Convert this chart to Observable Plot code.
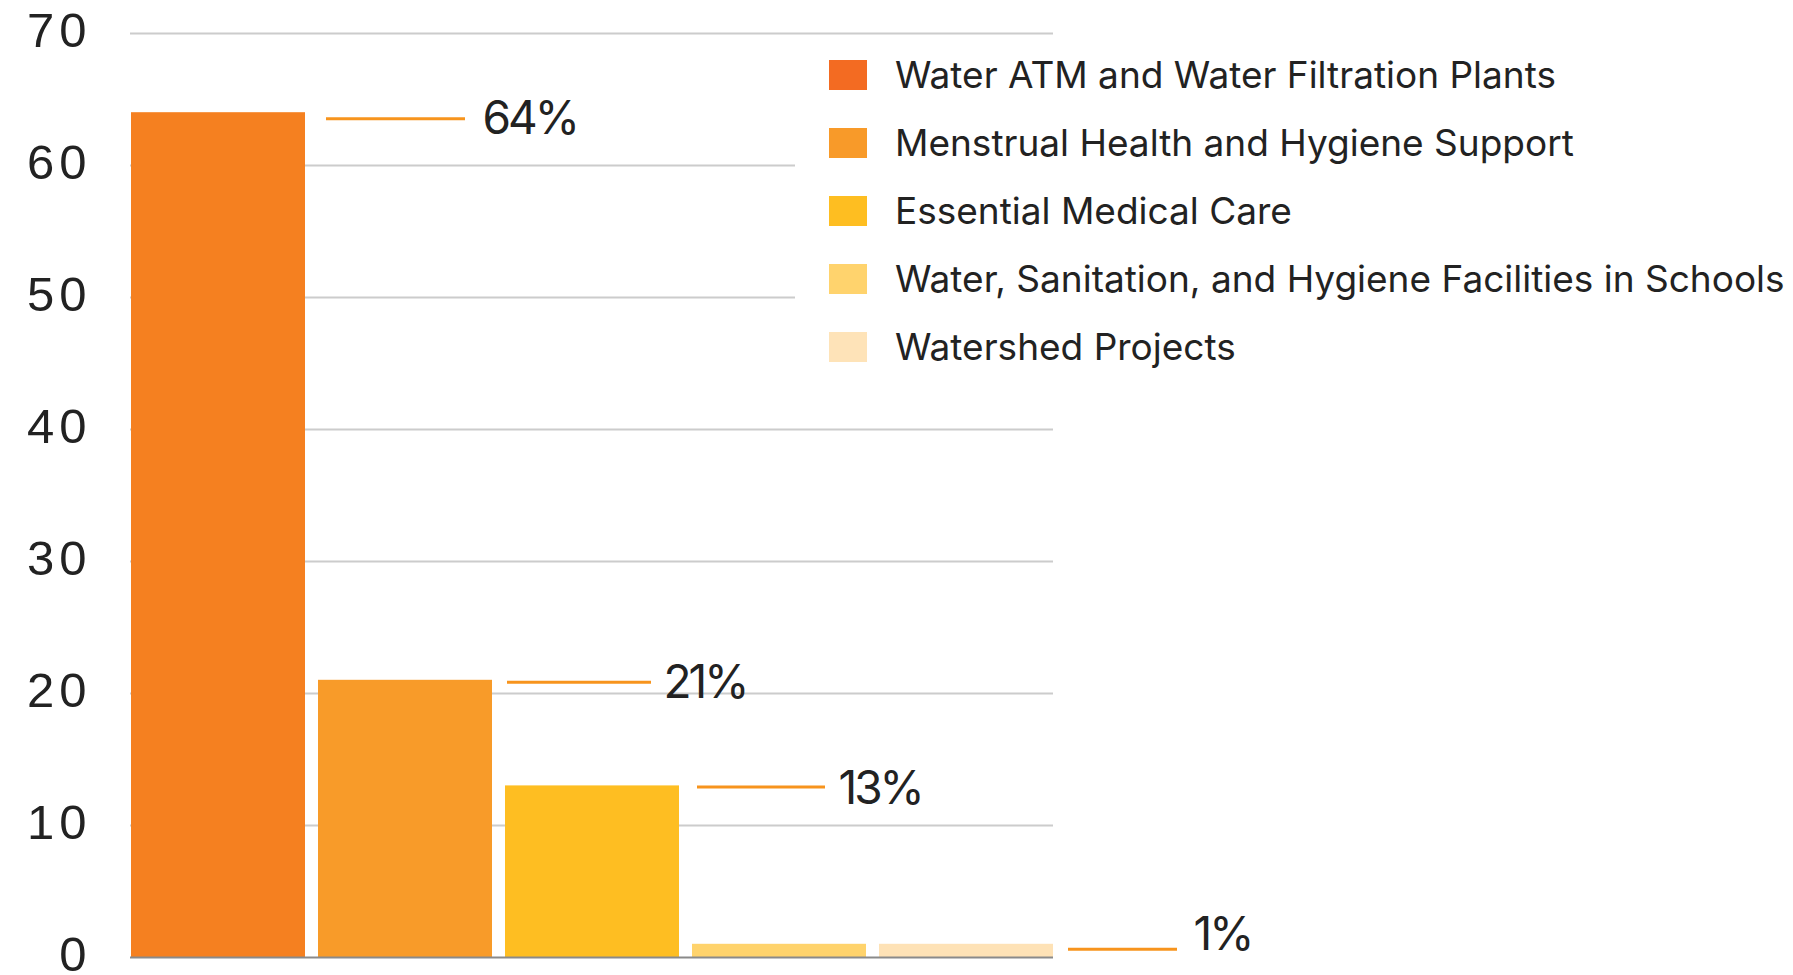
<!DOCTYPE html>
<html>
<head>
<meta charset="utf-8">
<script src="https://cdn.jsdelivr.net/npm/d3@7"></script>
<script src="https://cdn.jsdelivr.net/npm/@observablehq/plot@0.6"></script>
<style>
  html, body { margin: 0; padding: 0; background: #fff; }
  #wrap { position: relative; width: 1793px; height: 975px; overflow: hidden; }
  #wrap svg { position: absolute; left: 0; top: 0; }
  g[aria-label="y-axis tick label"] text { letter-spacing: 5px; }
  g[aria-label="text"] text { letter-spacing: -3px; }
  #legend { position: absolute; left: 795px; top: 42px; width: 998px; height: 318px; background: #fff;
            font-family: Inter, "Noto Sans", sans-serif; color: #222; }
  .row { position: absolute; left: 34px; height: 30px; display: flex; align-items: center; white-space: nowrap; }
  .sw { width: 38px; height: 30px; margin-right: 28px; flex: none; }
  .lbl { font-size: 37px; line-height: 30px; }
</style>
</head>
<body>
<div id="wrap"></div>
<script>
// ---- data ----
const categories = [
  "Water ATM and Water Filtration Plants",
  "Menstrual Health and Hygiene Support",
  "Essential Medical Care",
  "Water, Sanitation, and Hygiene Facilities in Schools",
  "Watershed Projects"
];
const values = [64, 21, 13, 1, 1];
const barColors = ["#F58020", "#F89B29", "#FEBE22", "#FFD36C", "#FEE2B6"];
const legendColors = ["#F36B22", "#F89A29", "#FEBE21", "#FFD36D", "#FEE3B8"];
const yTicks = [0, 10, 20, 30, 40, 50, 60, 70];

const annotCategories = [categories[0], categories[1], categories[2], categories[4]];
const annotValues = [64, 21, 13, 1];
const annotLabels = ["64%", "21%", "13%", "1%"];

// ---- layout offsets for annotations (px) ----
const lineDx = [195, 189, 192, 189];
const lineInsetRight = [35, 30, 46, 65];
const lineDy = [6, 2, 1, 5];
const textDx = [264, 258, 246, 227];
const textDy = [7, 3, 3, -9];

const bars = categories.map((c, i) => ({category: c, value: values[i]}));
const annots = annotCategories.map((c, i) => ({category: c, value: annotValues[i], label: annotLabels[i]}));

const annotMarks = annots.flatMap((d, i) => [
  Plot.tickY([d], {x: "category", y: "value", stroke: "#F7941D", strokeWidth: 3,
    dx: lineDx[i], dy: lineDy[i], insetRight: lineInsetRight[i]}),
  Plot.text([d], {x: "category", y: "value", text: "label", textAnchor: "start",
    dx: textDx[i], dy: textDy[i], fontSize: 46, fill: "#222", fontFamily: "Inter, sans-serif"})
]);

const chart = Plot.plot({
  width: 1793,
  height: 975,
  marginLeft: 130,
  marginRight: 740,
  marginTop: 33,
  marginBottom: 18,
  style: {fontFamily: "'Liberation Sans', Arial, sans-serif", background: "transparent", overflow: "visible"},
  x: {domain: categories, paddingInner: 0.07, paddingOuter: 0, axis: null},
  y: {domain: [0, 70], ticks: yTicks},
  color: {domain: categories, range: barColors},
  marks: [
    Plot.gridY(yTicks.filter(t => t > 0), {stroke: "#cccccc", strokeOpacity: 1, strokeWidth: 2}),
    Plot.axisY({ticks: yTicks, tickSize: 0, tickPadding: 39, fontSize: 49, fill: "#222", label: null, dy: -2}),
    Plot.barY(bars, {x: "category", y: "value", fill: "category"}),
    Plot.ruleY([0], {stroke: "#8a8a8a", strokeWidth: 2}),
    ...annotMarks
  ]
});

const wrap = document.getElementById("wrap");
wrap.appendChild(chart);

// legend
const legend = document.createElement("div");
legend.id = "legend";
categories.forEach((c, i) => {
  const row = document.createElement("div");
  row.className = "row";
  row.style.top = (18 + i * 68) + "px";
  const sw = document.createElement("div");
  sw.className = "sw";
  sw.style.background = legendColors[i];
  const lb = document.createElement("span");
  lb.className = "lbl";
  lb.textContent = c;
  row.appendChild(sw);
  row.appendChild(lb);
  legend.appendChild(row);
});
wrap.appendChild(legend);
</script>
</body>
</html>
